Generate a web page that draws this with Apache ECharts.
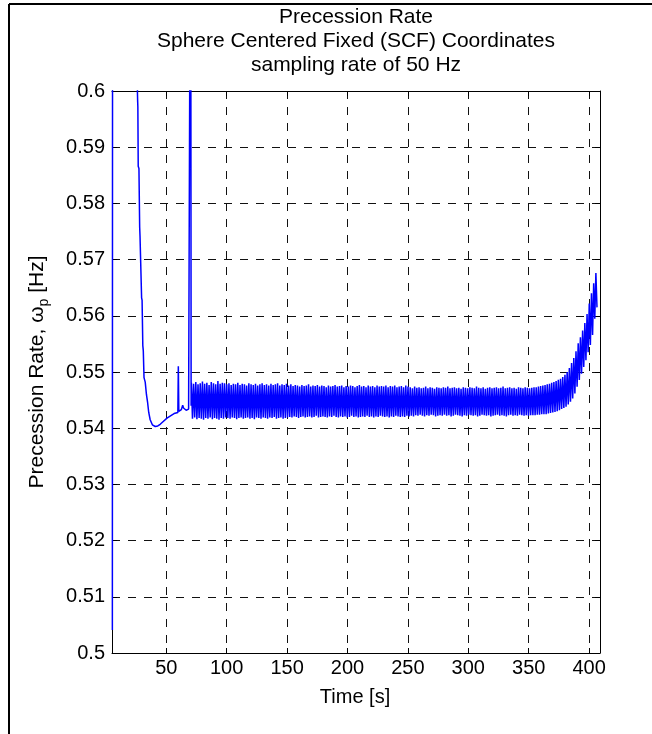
<!DOCTYPE html>
<html><head><meta charset="utf-8">
<script src="https://cdn.jsdelivr.net/npm/echarts@6/dist/echarts.min.js"></script>
<style>html,body{margin:0;padding:0;background:#fff}#c{width:652px;height:734px}</style>
</head><body><div id="c"></div>
<script>
// ---- text ----
const titleLines = ['Precession Rate', 'Sphere Centered Fixed (SCF) Coordinates', 'sampling rate of 50 Hz'];
const xAxisTitle = 'Time [s]';
const yAxisTitleRich = '{a|Precession Rate, ω}{s|p}{a| [Hz]}';

// ---- axes ----
const xRange = [5.1, 409];
const yRange = [0.5, 0.6];
const yStep = 0.01;
const xLabelStep = 50;

// ---- initial transient (time s, rate Hz) ----
const transientTime = [5.4, 5.6, 16.0, 26.0, 26.15, 26.35, 26.25, 26.5, 26.8, 27.4, 28.0, 28.3, 28.6, 29.6, 30.0, 30.6, 31.0, 31.6, 32.6, 33.6, 34.5, 35.5, 36.7, 38.5, 40.9, 43.0, 45.0, 47.5, 50.6, 53.5, 56.5, 59.6, 60.0, 60.4, 62.5, 63.6, 64.3, 66.5, 68.5, 69.8, 70.2, 70.6];
const transientRate = [0.5041, 0.6500, 0.6800, 0.6100, 0.5998, 0.5980, 0.5988, 0.5972, 0.5866, 0.5862, 0.5758, 0.5741, 0.5738, 0.5632, 0.5628, 0.5547, 0.5538, 0.5490, 0.5482, 0.5460, 0.5447, 0.5428, 0.5415, 0.5406, 0.5403, 0.5404, 0.5407, 0.5412, 0.5418, 0.5422, 0.5426, 0.5428, 0.5510, 0.5430, 0.5433, 0.5441, 0.5436, 0.5432, 0.5434, 0.5432, 0.6500, 0.5440];

// ---- oscillating band: sampled every cycle (start time, cycle length in s) ----
const bandStartTime = 70.8;
const bandCycle = 1.8295;
const bandPeaks = [
  0.5481,0.5479,0.5482,0.5478,0.5480,0.5483,0.5479,0.5481,0.5477,0.5482,0.5480,0.5478,0.5484,0.5479,0.5481,0.5480,
  0.5478,0.5480,0.5477,0.5479,0.5478,0.5481,0.5477,0.5479,0.5478,0.5476,0.5480,0.5478,0.5477,0.5479,0.5476,0.5478,0.5480,0.5477,0.5478,0.5476,0.5479,0.5477,0.5478,0.5480,0.5476,0.5478,0.5477,0.5479,
  0.5476,0.5478,0.5475,0.5477,0.5476,0.5474,0.5477,0.5475,0.5476,0.5478,0.5474,0.5476,0.5475,0.5477,0.5474,0.5476,0.5475,0.5473,0.5476,0.5474,0.5475,0.5477,0.5474,0.5475,0.5476,0.5473,0.5475,0.5474,0.5476,0.5475,0.5473,0.5475,0.5477,0.5474,0.5475,0.5473,0.5476,0.5474,0.5475,0.5473,0.5476,0.5474,0.5475,0.5474,0.5476,0.5473,0.5475,0.5474,0.5476,0.5473,0.5474,0.5475,0.5473,0.5476,0.5474,
  0.5473,0.5471,0.5474,0.5472,0.5473,0.5471,0.5472,0.5474,0.5471,0.5473,0.5472,0.5470,0.5473,0.5472,0.5471,0.5473,0.5472,0.5474,0.5471,0.5472,0.5473,0.5471,0.5472,0.5470,0.5473,0.5472,0.5471,0.5473,0.5472,0.5471,0.5474,0.5472,0.5471,0.5473,0.5470,0.5472,0.5473,0.5471,0.5472,0.5473,0.5471,0.5472,0.5474,0.5471,0.5472,0.5473,0.5471,0.5472,0.5470,0.5473,0.5472,0.5471,0.5473,0.5472,0.5471,
  0.5472,0.5473,0.5473,0.5474,0.5475,0.5476,0.5477,0.5478,0.5479,0.5481,0.5482,0.5484,0.5486,0.5488,0.5491,0.5495,0.5500,0.5507,0.5516,0.5525,0.5537,0.5551,0.5562,0.5574,0.5587,0.5603,0.5622,0.5640,0.5658,0.5676
];
const bandTroughs = [
  0.5417,0.5419,0.5416,0.5418,0.5417,0.5415,0.5418,0.5417,0.5419,0.5416,0.5418,0.5417,0.5415,0.5418,0.5417,0.5419,
  0.5418,0.5417,0.5419,0.5418,0.5416,0.5418,0.5419,0.5417,0.5418,0.5419,0.5417,0.5418,0.5416,0.5419,0.5418,0.5417,0.5419,0.5418,0.5417,0.5419,0.5418,0.5420,0.5417,0.5418,0.5419,0.5417,0.5418,0.5419,
  0.5420,0.5419,0.5421,0.5420,0.5418,0.5420,0.5421,0.5419,0.5420,0.5421,0.5419,0.5420,0.5422,0.5419,0.5420,0.5421,0.5420,0.5419,0.5421,0.5420,0.5422,0.5420,0.5419,0.5421,0.5420,0.5421,0.5419,0.5420,0.5422,0.5420,0.5421,0.5419,0.5420,0.5421,0.5420,0.5422,0.5420,0.5421,0.5419,0.5421,0.5420,0.5422,0.5421,0.5420,0.5421,0.5419,0.5421,0.5420,0.5422,0.5421,0.5420,0.5421,0.5420,0.5422,0.5421,
  0.5422,0.5421,0.5423,0.5422,0.5424,0.5422,0.5421,0.5423,0.5422,0.5424,0.5423,0.5421,0.5422,0.5423,0.5422,0.5424,0.5422,0.5423,0.5421,0.5422,0.5424,0.5423,0.5422,0.5421,0.5423,0.5422,0.5424,0.5423,0.5422,0.5423,0.5421,0.5422,0.5424,0.5423,0.5422,0.5423,0.5421,0.5422,0.5423,0.5424,0.5422,0.5423,0.5422,0.5421,0.5423,0.5424,0.5422,0.5423,0.5422,0.5424,0.5423,0.5422,0.5423,0.5422,0.5423,
  0.5423,0.5423,0.5424,0.5424,0.5425,0.5425,0.5425,0.5426,0.5427,0.5428,0.5429,0.5430,0.5432,0.5434,0.5436,0.5438,0.5442,0.5447,0.5453,0.5462,0.5474,0.5486,0.5497,0.5509,0.5521,0.5535,0.5548,0.5566,0.5595,0.5615
];

// ---- build series data ----
const seriesData = [];
for (let i = 0; i < transientTime.length; i++) seriesData.push([transientTime[i], transientRate[i]]);
const nBand = Math.min(bandPeaks.length, bandTroughs.length);
for (let k = 0; k < nBand; k++) {
  seriesData.push([bandStartTime + k * bandCycle, bandPeaks[k]]);
  seriesData.push([bandStartTime + (k + 0.5) * bandCycle, bandTroughs[k]]);
}

const FONT = 'Liberation Sans, Arial, Helvetica, sans-serif';
const BLACK = '#000';
const gridBox = { left: 112, right: 52, top: 91, bottom: 81 };

function xLabelFmt(v) {
  const r = v / xLabelStep;
  return Math.abs(r - Math.round(r)) < 1e-6 ? String(Math.round(v)) : '';
}
const axisLineStyle = { show: true, onZero: false, lineStyle: { color: BLACK, width: 1 } };
const tickStyle = { show: true, inside: true, length: 5, lineStyle: { color: BLACK, width: 1 } };
const gridLineStyle = { show: true, lineStyle: { color: '#111', width: 1, type: [8, 8] } };

const chart = echarts.init(document.getElementById('c'), null, { renderer: 'canvas' });
chart.setOption({
  animation: false,
  backgroundColor: '#fff',
  grid: Object.assign({ show: false, containLabel: false }, gridBox),
  xAxis: [
    { type: 'value', min: xRange[0], max: xRange[1], splitNumber: 8, position: 'bottom',
      axisLine: axisLineStyle, axisTick: tickStyle,
      axisLabel: { color: BLACK, fontSize: 20, fontFamily: FONT, margin: 5, formatter: xLabelFmt },
      splitLine: gridLineStyle },
    { type: 'value', min: xRange[0], max: xRange[1], splitNumber: 8, position: 'top',
      axisLine: axisLineStyle, axisTick: tickStyle, axisLabel: { show: false }, splitLine: { show: false } }
  ],
  yAxis: [
    { type: 'value', min: yRange[0], max: yRange[1], interval: yStep, position: 'left',
      axisLine: axisLineStyle, axisTick: tickStyle,
      axisLabel: { color: BLACK, fontSize: 20, fontFamily: FONT, margin: 7, formatter: v => String(+v.toFixed(2)) },
      splitLine: gridLineStyle },
    { type: 'value', min: yRange[0], max: yRange[1], interval: yStep, position: 'right',
      axisLine: axisLineStyle, axisTick: tickStyle, axisLabel: { show: false }, splitLine: { show: false } }
  ],
  series: [{
    type: 'line', xAxisIndex: 0, yAxisIndex: 0, data: seriesData,
    symbol: 'none', showSymbol: false, clip: true, silent: true,
    lineStyle: { color: '#0000ff', width: 1.5 }, z: 3
  }],
  graphic: [
    { type: 'line', shape: { x1: 9, y1: 4, x2: 652, y2: 4 }, style: { stroke: BLACK, lineWidth: 2 } },
    { type: 'line', shape: { x1: 9, y1: 4, x2: 9, y2: 734 }, style: { stroke: BLACK, lineWidth: 2 } },
    { type: 'text', x: 356, y: 17, style: { text: titleLines[0], fill: BLACK, fontSize: 21, fontFamily: FONT, align: 'center', verticalAlign: 'middle' } },
    { type: 'text', x: 356, y: 41, style: { text: titleLines[1], fill: BLACK, fontSize: 21, fontFamily: FONT, align: 'center', verticalAlign: 'middle' } },
    { type: 'text', x: 356, y: 65, style: { text: titleLines[2], fill: BLACK, fontSize: 21, fontFamily: FONT, align: 'center', verticalAlign: 'middle' } },
    { type: 'text', x: 355, y: 697, style: { text: xAxisTitle, fill: BLACK, fontSize: 20, fontFamily: FONT, align: 'center', verticalAlign: 'middle' } },
    { type: 'text', x: 39, y: 372, rotation: Math.PI / 2,
      style: { text: yAxisTitleRich, fill: BLACK, fontFamily: FONT, align: 'center', verticalAlign: 'middle',
        rich: { a: { fontSize: 21, fontFamily: FONT, fill: BLACK, lineHeight: 24, verticalAlign: 'top' },
                s: { fontSize: 14, fontFamily: FONT, fill: BLACK, lineHeight: 24, verticalAlign: 'bottom' } } } }
  ]
});
</script></body></html>
